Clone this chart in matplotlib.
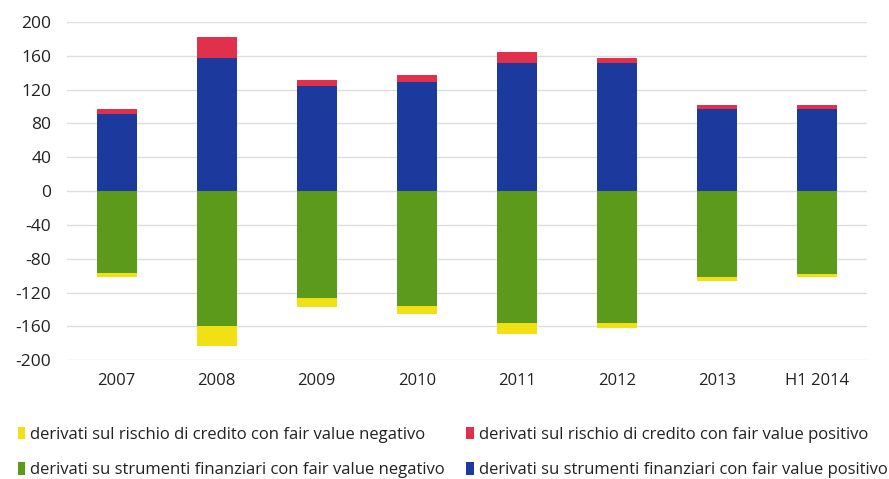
import matplotlib.pyplot as plt
import numpy as np

plt.rcParams['font.family'] = ['Open Sans', 'DejaVu Sans']
plt.rcParams['axes.unicode_minus'] = False

years = ["2007", "2008", "2009", "2010", "2011", "2012", "2013", "H1 2014"]
fin_pos = [91, 157, 124, 129, 151, 151, 97, 97]      # blu
cred_pos = [6, 25, 8, 8, 13, 7, 5, 5]                # rosso
fin_neg = [-97, -160, -127, -136, -156, -156, -102, -98]  # verde
cred_neg = [-5, -23, -10, -9, -13, -6, -4, -4]       # giallo

labels = [
    "derivati sul rischio di credito con fair value negativo",
    "derivati sul rischio di credito con fair value positivo",
    "derivati su strumenti finanziari con fair value negativo",
    "derivati su strumenti finanziari con fair value positivo",
]
c_yellow = "#f0e014"
c_red = "#e0304c"
c_green = "#5c9a1c"
c_blue = "#1c3a9e"

fig = plt.figure(figsize=(8.89, 4.79), dpi=100)
ax = fig.add_axes([0.075, 0.248, 0.9, 0.706])

x = np.arange(len(years))
w = 0.4
b_blue = ax.bar(x, fin_pos, w, color=c_blue, zorder=3)
b_red = ax.bar(x, cred_pos, w, bottom=fin_pos, color=c_red, zorder=3)
b_green = ax.bar(x, fin_neg, w, color=c_green, zorder=3)
b_yellow = ax.bar(x, cred_neg, w, bottom=fin_neg, color=c_yellow, zorder=3)

ax.set_xlim(-0.5, len(years) - 0.5)
ax.set_ylim(-200, 200)
ax.set_yticks(np.arange(-200, 201, 40))
ax.set_xticks(x)
ax.set_xticklabels(years)
ax.tick_params(length=0, colors="#222222")
ax.tick_params(axis="y", pad=11, labelsize=12.5)
ax.tick_params(axis="x", pad=9, labelsize=12)
ax.yaxis.grid(True, color="#dedede", linewidth=1, zorder=0)
for s in ax.spines.values():
    s.set_visible(False)

fig.legend([b_yellow, b_green, b_red, b_blue],
           [labels[0], labels[2], labels[1], labels[3]],
           ncol=2, loc="lower left", bbox_to_anchor=(0.003, -0.03),
           frameon=False, fontsize=12, handlelength=0.45, handleheight=0.75,
           handletextpad=0.3, columnspacing=1.3, labelspacing=1.15,
           labelcolor="#222222")

fig.savefig("out.png", dpi=100)
